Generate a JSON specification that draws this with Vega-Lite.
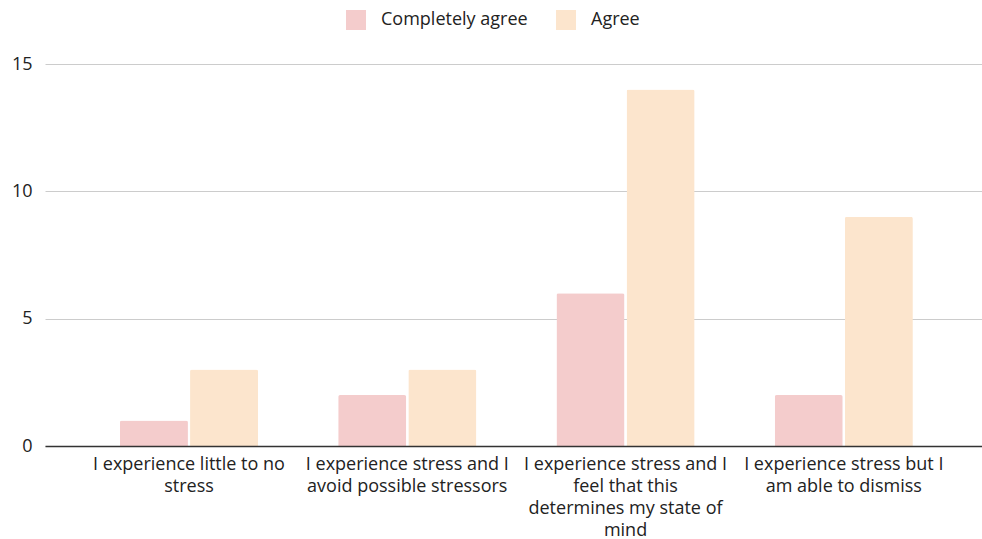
{
  "$schema": "https://vega.github.io/schema/vega-lite/v6.json",
  "autosize": {"type": "none"},
  "padding": {"left": 45, "top": 64, "right": 0, "bottom": 93},
  "width": 937,
  "height": 382,
  "background": "white",
  "data": {
    "values": [
      {"statement": "I experience little to no stress", "response": "Completely agree", "count": 1},
      {"statement": "I experience little to no stress", "response": "Agree", "count": 3},
      {"statement": "I experience stress and I avoid possible stressors", "response": "Completely agree", "count": 2},
      {"statement": "I experience stress and I avoid possible stressors", "response": "Agree", "count": 3},
      {"statement": "I experience stress and I feel that this determines my state of mind", "response": "Completely agree", "count": 6},
      {"statement": "I experience stress and I feel that this determines my state of mind", "response": "Agree", "count": 14},
      {"statement": "I experience stress but I am able to dismiss", "response": "Completely agree", "count": 2},
      {"statement": "I experience stress but I am able to dismiss", "response": "Agree", "count": 9}
    ]
  },
  "mark": {"type": "bar", "cornerRadiusTopLeft": 2, "cornerRadiusTopRight": 2},
  "encoding": {
    "x": {
      "field": "statement",
      "type": "nominal",
      "sort": null,
      "scale": {"paddingInner": 0.367, "paddingOuter": 0.33, "align": 0.52},
      "axis": {
        "title": null,
        "labelAngle": 0,
        "labelFont": "Open Sans",
        "labelFontSize": 18,
        "labelColor": "#222222",
        "labelPadding": 9,
        "labelLineHeight": 22,
        "labelLimit": 300,
        "ticks": false,
        "domainColor": "#333333",
        "domainWidth": 1.5,
        "zindex": 1,
        "labelExpr": "datum.value == 'I experience little to no stress' ? ['I experience little to no', 'stress'] : datum.value == 'I experience stress and I avoid possible stressors' ? ['I experience stress and I', 'avoid possible stressors'] : datum.value == 'I experience stress and I feel that this determines my state of mind' ? ['I experience stress and I', 'feel that this', 'determines my state of', 'mind'] : ['I experience stress but I', 'am able to dismiss']"
      }
    },
    "xOffset": {
      "field": "response",
      "type": "nominal",
      "sort": ["Completely agree", "Agree"],
      "scale": {"paddingInner": 0.03}
    },
    "y": {
      "field": "count",
      "type": "quantitative",
      "scale": {"domain": [0, 15]},
      "axis": {
        "title": null,
        "values": [0, 5, 10, 15],
        "domain": false,
        "ticks": false,
        "labelFont": "Open Sans",
        "labelFontSize": 18,
        "labelColor": "#222222",
        "labelPadding": 13,
        "gridColor": "#cccccc",
        "gridWidth": 1
      }
    },
    "color": {
      "field": "response",
      "type": "nominal",
      "sort": ["Completely agree", "Agree"],
      "scale": {"domain": ["Completely agree", "Agree"], "range": ["#f4cccc", "#fce5cd"]},
      "legend": {
        "title": null,
        "orient": "none",
        "direction": "horizontal",
        "legendX": 301,
        "legendY": -54,
        "symbolType": "square",
        "symbolSize": 400,
        "symbolStrokeWidth": 0,
        "labelFont": "Open Sans",
        "labelFontSize": 18,
        "labelColor": "#222222",
        "labelOffset": 15,
        "columnPadding": 28
      }
    }
  },
  "config": {"view": {"stroke": null}}
}
